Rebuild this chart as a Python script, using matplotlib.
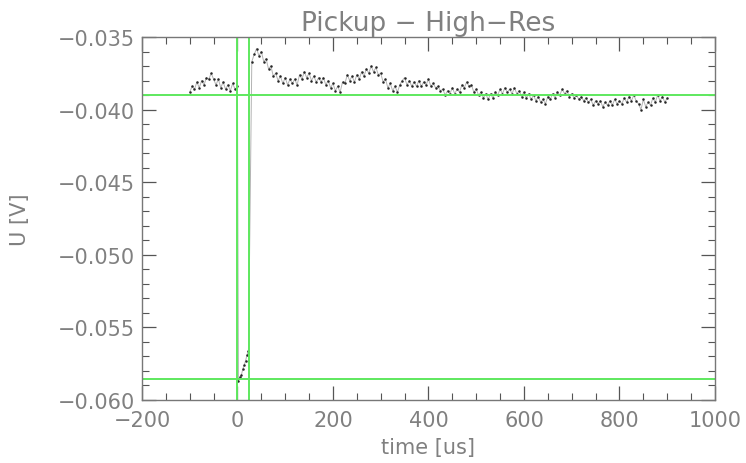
import matplotlib
matplotlib.use("Agg")
import matplotlib.pyplot as plt
import numpy as np
from matplotlib.ticker import MultipleLocator

# pickup signal in mV, three pieces: before trigger, during pulse, after pulse
t_pre = np.arange(-100, 1, 5)
u_pre = [-38.8, -38.4, -38.6, -38.1, -38.5, -38.0, -38.3, -37.8, -37.9, -37.5,
         -37.9, -38.3, -37.9, -38.5, -38.1, -38.6, -38.3, -38.7, -38.2, -38.6,
         -38.4]

t_pulse = [2, 5, 8, 11, 14, 17, 20, 23]
u_pulse = [-58.7, -58.4, -58.3, -57.9, -57.6, -57.3, -56.9, -56.6]

t_post = np.arange(30, 901, 5)
u_post = [-36.7, -36.2, -35.8, -36.3, -36.0, -36.7, -36.5, -37.2, -37.0, -37.7,
          -37.5, -38.0, -37.7, -38.2, -37.8, -38.3, -37.9, -38.2, -37.9, -38.3,
          -37.6, -37.9, -37.4, -37.8, -37.5, -38.0, -37.7, -38.1, -37.8, -38.1,
          -37.8, -38.3, -38.0, -38.5, -38.2, -38.7, -38.4, -38.8, -38.1, -38.2,
          -37.6, -38.0, -37.7, -38.1, -37.6, -37.9, -37.4, -37.7, -37.2, -37.5,
          -37.0, -37.4, -37.1, -37.6, -37.5, -38.1, -37.9, -38.5, -38.2, -38.7,
          -38.4, -38.8, -38.3, -38.0, -37.8, -38.3, -38.0, -38.4, -38.1, -38.4,
          -38.0, -38.4, -38.1, -38.3, -37.9, -38.4, -38.2, -38.5, -38.4, -38.7,
          -38.6, -39.0, -38.7, -38.9, -38.5, -38.9, -38.6, -38.8, -38.3, -38.5,
          -38.1, -38.4, -38.3, -38.8, -38.6, -39.0, -38.8, -39.2, -38.9, -39.3,
          -38.9, -39.2, -38.8, -39.0, -38.6, -38.9, -38.5, -38.8, -38.6, -38.9,
          -38.5, -38.9, -38.7, -39.1, -38.8, -39.2, -38.9, -39.3, -39.0, -39.4,
          -39.1, -39.5, -39.3, -39.6, -39.1, -39.3, -38.9, -39.2, -38.8, -39.0,
          -38.6, -38.9, -38.7, -39.1, -38.9, -39.2, -39.0, -39.3, -39.1, -39.4,
          -39.2, -39.5, -39.3, -39.7, -39.4, -39.6, -39.4, -39.8, -39.5, -39.7,
          -39.4, -39.7, -39.3, -39.6, -39.4, -39.6, -39.2, -39.5, -39.1, -39.4,
          -39.0, -39.4, -39.6, -40.0, -39.3, -39.8, -39.5, -39.7, -39.2, -39.5,
          -39.0, -39.4, -39.1, -39.5, -39.2]

# cursor lines (time window and levels)
t_marks = [0, 25]
u_marks = [-0.0390, -0.05855]

t = np.concatenate([t_pre, t_pulse, t_post])
u = np.concatenate([u_pre, u_pulse, u_post]) / 1000.0

txt = '#808080'
green = '#5ee85e'

fig = plt.figure(figsize=(7.46, 4.64), dpi=100)
ax = fig.add_axes([0.1903, 0.1358, 0.7681, 0.7823])

ax.plot(t, u, color='0.7', lw=0.7)
ax.plot(t, u, '.', color='0.15', ms=1.6)

for x in t_marks:
    ax.axvline(x, color=green, lw=1.4)
for y in u_marks:
    ax.axhline(y, color=green, lw=1.4)

ax.set_xlim(-200, 1000)
ax.set_ylim(-0.060, -0.035)
ax.xaxis.set_major_locator(MultipleLocator(200))
ax.xaxis.set_minor_locator(MultipleLocator(50))
ax.yaxis.set_major_locator(MultipleLocator(0.005))
ax.yaxis.set_minor_locator(MultipleLocator(0.001))
ax.yaxis.set_major_formatter(plt.FuncFormatter(lambda v, p: ('%.3f' % v).replace('-', '\u2212')))

ax.tick_params(which='both', direction='in', top=True, right=True,
               colors='#555555', labelcolor=txt, labelsize=15)
ax.tick_params(axis='x', pad=7)
ax.tick_params(axis='y', pad=5)
ax.tick_params(which='major', length=10, width=0.9)
ax.tick_params(which='minor', length=5, width=0.8)
for s in ax.spines.values():
    s.set_color('#777777')
    s.set_linewidth(1.0)

ax.set_title('Pickup \u2212 High\u2212Res', color=txt, fontsize=19, pad=5)
ax.set_xlabel('time [us]', color=txt, fontsize=15, labelpad=5)
ax.set_ylabel('U [V]', color=txt, fontsize=15)
ax.yaxis.set_label_coords(-0.195, 0.5)

fig.savefig('out.png', dpi=100)
